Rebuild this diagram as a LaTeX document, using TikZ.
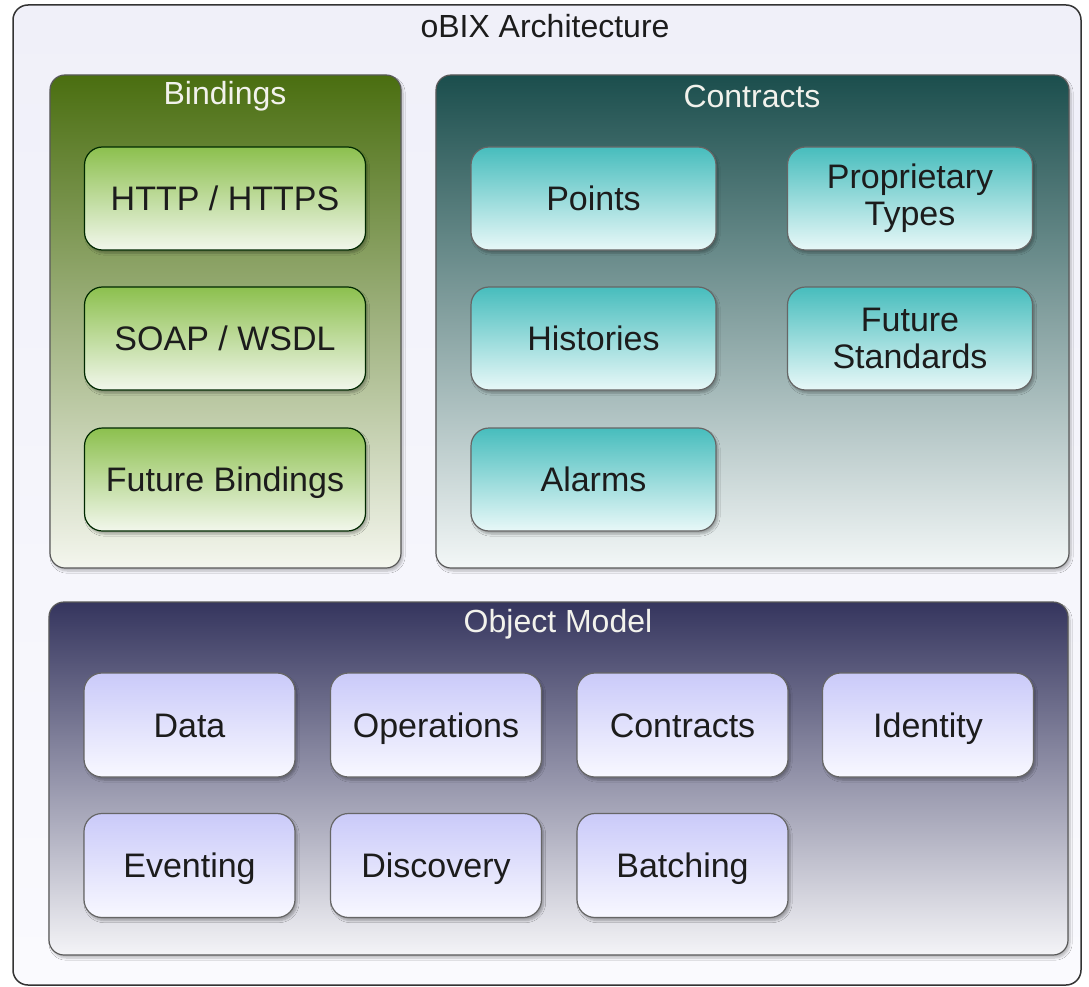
\documentclass[tikz,border=0pt]{standalone}
\usepackage{fontspec}
\setmainfont{Liberation Sans}
\usetikzlibrary{shadows.blur}
\definecolor{outerT}{HTML}{F0F0F9}
\definecolor{outerB}{HTML}{FAFAFE}
\definecolor{bindT}{HTML}{4A6E10}
\definecolor{bindB}{HTML}{F4F6EE}
\definecolor{gboxT}{HTML}{8CC04E}
\definecolor{gboxB}{HTML}{F2F7EC}
\definecolor{contT}{HTML}{1B4E4D}
\definecolor{contB}{HTML}{F3F7F7}
\definecolor{tboxT}{HTML}{47BDBD}
\definecolor{tboxB}{HTML}{E8F8F8}
\definecolor{objT}{HTML}{35355E}
\definecolor{objB}{HTML}{F4F4F7}
\definecolor{pboxT}{HTML}{CACAF9}
\definecolor{pboxB}{HTML}{F8F8FF}
\definecolor{textdark}{HTML}{1C1C1C}
\definecolor{titlelight}{HTML}{F2F2EC}
\tikzset{
  panel/.style={draw=black!65, line width=1.2pt, rounded corners=15pt,
    blur shadow={shadow xshift=2pt, shadow yshift=-3pt, shadow blur steps=6, shadow opacity=25}},
  box/.style={draw=black!60, line width=1.2pt, rounded corners=18pt, align=center,
    text=textdark, font=\fontsize{34}{37}\selectfont, inner sep=0pt,
    blur shadow={shadow xshift=2pt, shadow yshift=-3pt, shadow blur steps=6, shadow opacity=30}},
  one/.style={text height=26pt, text depth=2pt},
  gbox/.style={box, minimum width=281pt, minimum height=103pt, top color=gboxT, bottom color=gboxB, draw=black!60!green!40!black},
  tbox/.style={box, minimum width=245pt, minimum height=103pt, top color=tboxT, bottom color=tboxB},
  pbox/.style={box, one, minimum width=211pt, minimum height=104pt, top color=pboxT, bottom color=pboxB},
  ptitle/.style={text=titlelight, font=\fontsize{32}{35}\selectfont},
}
\begin{document}
\begin{tikzpicture}[x=1pt,y=-1pt]
\useasboundingbox (0,0) rectangle (1089,987);
\fill[white] (0,0) rectangle (1089,987);
% outer frame
\draw[line width=1.5pt, draw=black!80, rounded corners=15pt, top color=outerT, bottom color=outerB] (13,5) rectangle (1081,985);
\node[text=textdark, font=\fontsize{32}{35}\selectfont] (title) at (545,26) {oBIX Architecture};
% panels
\draw[panel, top color=bindT, bottom color=bindB] (50,75) rectangle (401,568);
\node[ptitle] (bindt) at (225,96) {Bindings};
\draw[panel, top color=contT, bottom color=contB] (436,75) rectangle (1069,568);
\node[ptitle] (contt) at (752,96) {Contracts};
\draw[panel, top color=objT, bottom color=objB] (49,602) rectangle (1068,955);
\node[ptitle] (objt) at (558,624) {Object Model};
% bindings
\node[gbox, one] (http) at (225,198.5) {HTTP / HTTPS};
\node[gbox, one] (soap) at (225,338.5) {SOAP / WSDL};
\node[gbox, one] (fbind) at (225,479.5) {Future Bindings};
% contracts
\node[tbox, one] (points) at (593.5,198.5) {Points};
\node[tbox] (prop) at (910,198.5) {Proprietary\\Types};
\node[tbox, one] (hist) at (593.5,338.5) {Histories};
\node[tbox] (fstd) at (910,338.5) {Future\\Standards};
\node[tbox, one] (alarms) at (593.5,479.5) {Alarms};
% object model
\node[pbox] (data) at (189.5,725) {Data};
\node[pbox] (ops) at (436,725) {Operations};
\node[pbox] (ocont) at (682.5,725) {Contracts};
\node[pbox] (ident) at (928,725) {Identity};
\node[pbox] (event) at (189.5,865.5) {Eventing};
\node[pbox] (disc) at (436,865.5) {Discovery};
\node[pbox] (batch) at (682.5,865.5) {Batching};
\end{tikzpicture}
\end{document}
